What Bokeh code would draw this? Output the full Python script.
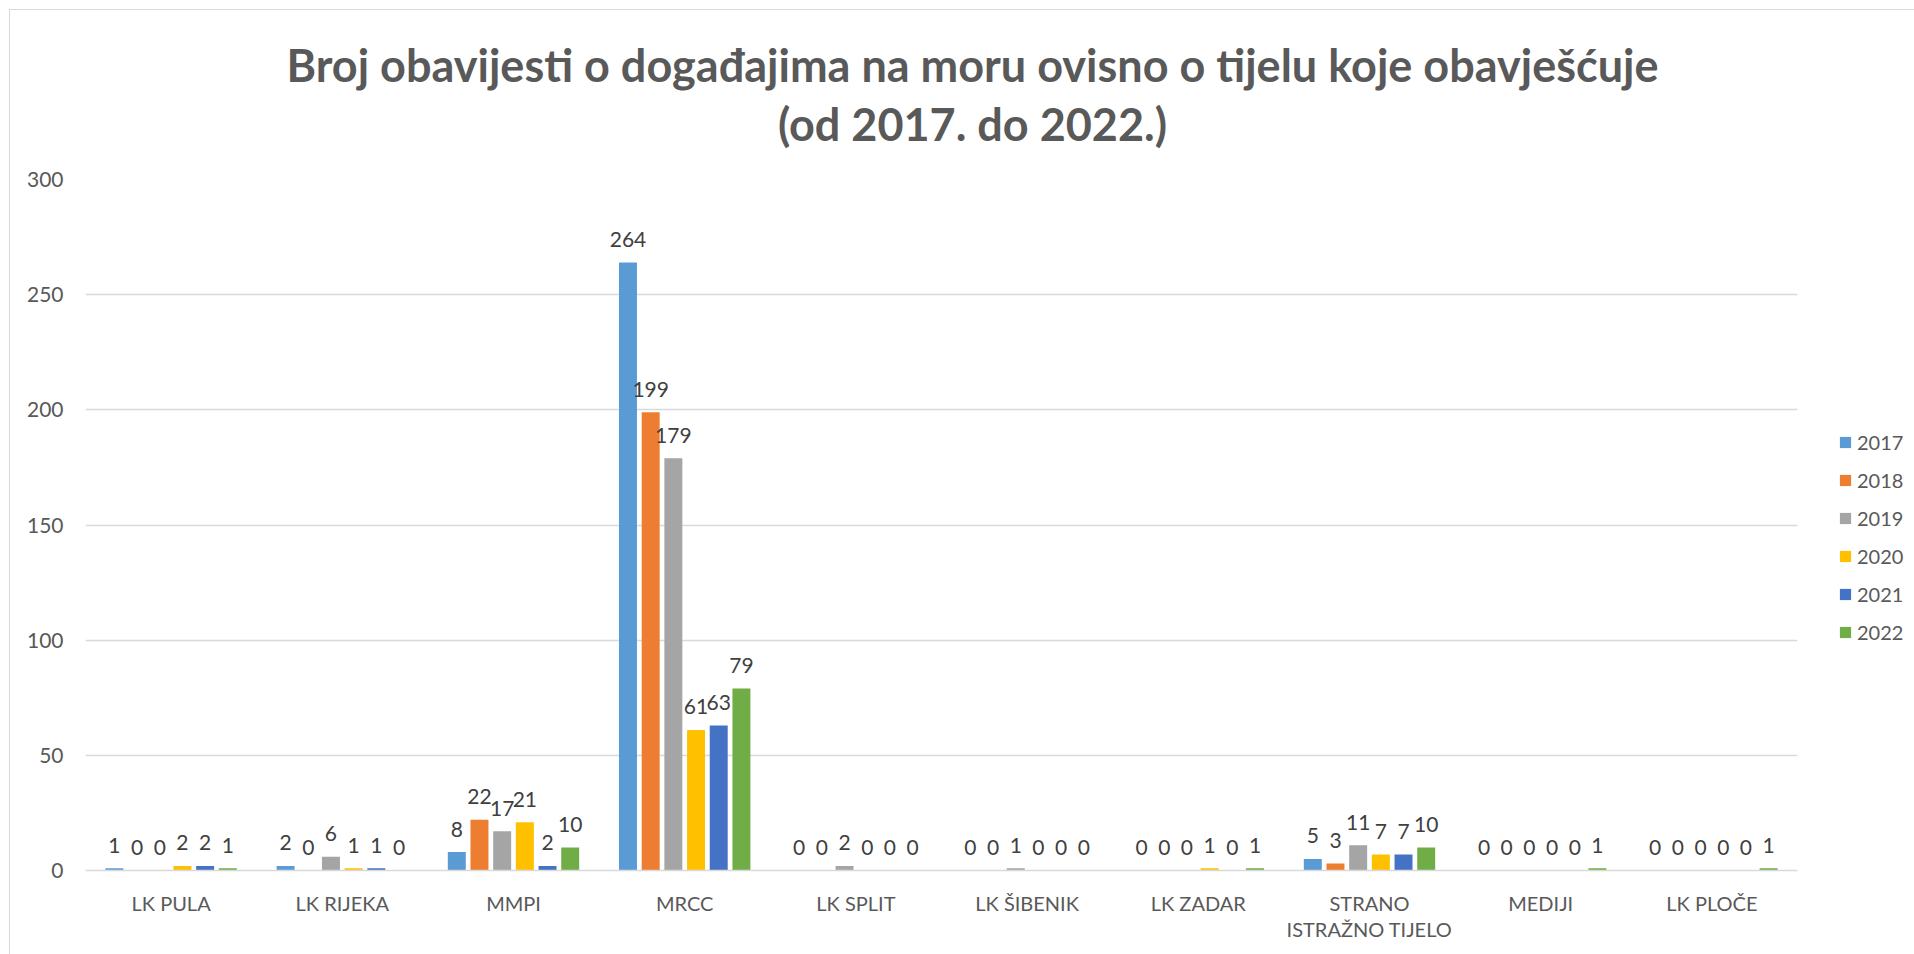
from bokeh.plotting import figure
from bokeh.layouts import row, column
from bokeh.models import ColumnDataSource, Legend, LegendItem, Label, FactorRange
from bokeh.transform import dodge
from bokeh.core.properties import value
from bokeh.embed import file_html
from bokeh.resources import INLINE

categories = ["LK PULA", "LK RIJEKA", "MMPI", "MRCC", "LK SPLIT", "LK ŠIBENIK",
              "LK ZADAR", "STRANO\nISTRAŽNO TIJELO", "MEDIJI", "LK PLOČE"]
years = ["2017", "2018", "2019", "2020", "2021", "2022"]
v2017 = [1, 2, 8, 264, 0, 0, 0, 5, 0, 0]
v2018 = [0, 0, 22, 199, 0, 0, 0, 3, 0, 0]
v2019 = [0, 6, 17, 179, 2, 1, 0, 11, 0, 0]
v2020 = [2, 1, 21, 61, 0, 0, 1, 7, 0, 0]
v2021 = [2, 1, 2, 63, 0, 0, 0, 7, 0, 0]
v2022 = [1, 0, 10, 79, 0, 0, 1, 10, 1, 1]
yticks = [0, 50, 100, 150, 200, 250, 300]
title1 = "Broj obavijesti o događajima na moru ovisno o tijelu koje obavješćuje"
title2 = "(od 2017. do 2022.)"

series = [v2017, v2018, v2019, v2020, v2021, v2022]
colors = ["#5B9BD5", "#ED7D31", "#A5A5A5", "#FFC000", "#4472C4", "#70AD47"]

data = {"cat": categories}
for y, s in zip(years, series):
    data["y" + y] = s
    data["l" + y] = [str(v) for v in s]
src = ColumnDataSource(data)

FONT = "Lato"
W, H = 1914, 954
TH = 160  # title strip height

# --- title strip ---
tf = figure(width=W, height=TH, output_backend="svg", toolbar_location=None,
            x_axis_location=None, y_axis_location=None, min_border=0)
tf.border_fill_alpha = 0
tf.background_fill_alpha = 0
tf.outline_line_color = None
tf.grid.grid_line_color = None
for txt, base in [(title1, 64), (title2, 123)]:
    tf.add_layout(Label(x=972, y=TH - base, x_units="screen", y_units="screen",
                        text=txt, text_align="center", text_baseline="alphabetic",
                        text_font=FONT, text_font_size="45px", text_font_style="bold",
                        text_color="#595959"))

# --- main chart ---
PH = H - TH
p = figure(x_range=FactorRange(*categories), y_range=(0, 300),
           width=1800, height=PH, output_backend="svg", toolbar_location=None,
           min_border_left=85, min_border_right=3, min_border_top=179 - TH,
           min_border_bottom=84)
p.border_fill_alpha = 0
p.outline_line_color = None
p.xgrid.grid_line_color = None
p.ygrid.grid_line_color = "#d9d9d9"
p.ygrid.grid_line_width = 1.3
p.yaxis.ticker = yticks
p.yaxis.axis_line_color = None
p.yaxis.major_tick_line_color = None
p.yaxis.minor_tick_line_color = None
p.yaxis.major_label_standoff = 16
p.yaxis.major_label_text_font = FONT
p.yaxis.major_label_text_font_size = "21px"
p.yaxis.major_label_text_color = "#595959"
p.xaxis.axis_line_color = "#d9d9d9"
p.xaxis.axis_line_width = 1.3
p.xaxis.major_tick_line_color = None
p.xaxis.minor_tick_line_color = None
p.xaxis.major_tick_out = 0
p.xaxis.major_label_standoff = 20
p.xaxis.major_label_text_font = FONT
p.xaxis.major_label_text_font_size = "20px"
p.xaxis.major_label_text_color = "#595959"
p.xaxis.major_label_text_line_height = 1.1

pitch = 0.1325
width = 0.105
for i, (y, c) in enumerate(zip(years, colors)):
    off = (i - 2.5) * pitch
    p.vbar(x=dodge("cat", off, range=p.x_range), top="y" + y, width=width,
           source=src, fill_color=c, line_color=None)
    p.text(x=dodge("cat", off, range=p.x_range), y="y" + y, text="l" + y,
           source=src, text_align="center", text_baseline="alphabetic",
           y_offset=-23, text_font=value(FONT), text_font_size="21px",
           text_color="#404040")

# --- legend panel ---
leg_src = ColumnDataSource(dict(year=years, color=colors, zero=[0] * len(years)))
lg = figure(width=W - 1800, height=PH, output_backend="svg", toolbar_location=None,
            x_axis_location=None, y_axis_location=None, min_border=0)
lg.border_fill_alpha = 0
lg.background_fill_alpha = 0
lg.outline_line_color = None
lg.grid.grid_line_color = None
r = lg.vbar(x="zero", top="zero", width=0, source=leg_src,
            fill_color="color", line_color=None)
items = [LegendItem(label=y, renderers=[r], index=i) for i, y in enumerate(years)]
legend = Legend(items=items, location=(38, 226), orientation="vertical",
                glyph_width=14, glyph_height=14, label_height=24, spacing=14,
                label_standoff=5, padding=0, margin=0,
                label_text_font=FONT, label_text_font_size="20px",
                label_text_color="#595959", border_line_color=None,
                background_fill_alpha=0)
lg.add_layout(legend, "center")

layout = column(tf, row(p, lg, spacing=0), spacing=0)
layout.styles = {
    "background": "linear-gradient(#d9d9d9,#d9d9d9) 9px 9px / 1px 100% no-repeat, "
                  "linear-gradient(#d9d9d9,#d9d9d9) 9px 9px / 100% 1px no-repeat, #ffffff"
}

open("out.html", "w").write(file_html(layout, INLINE))
